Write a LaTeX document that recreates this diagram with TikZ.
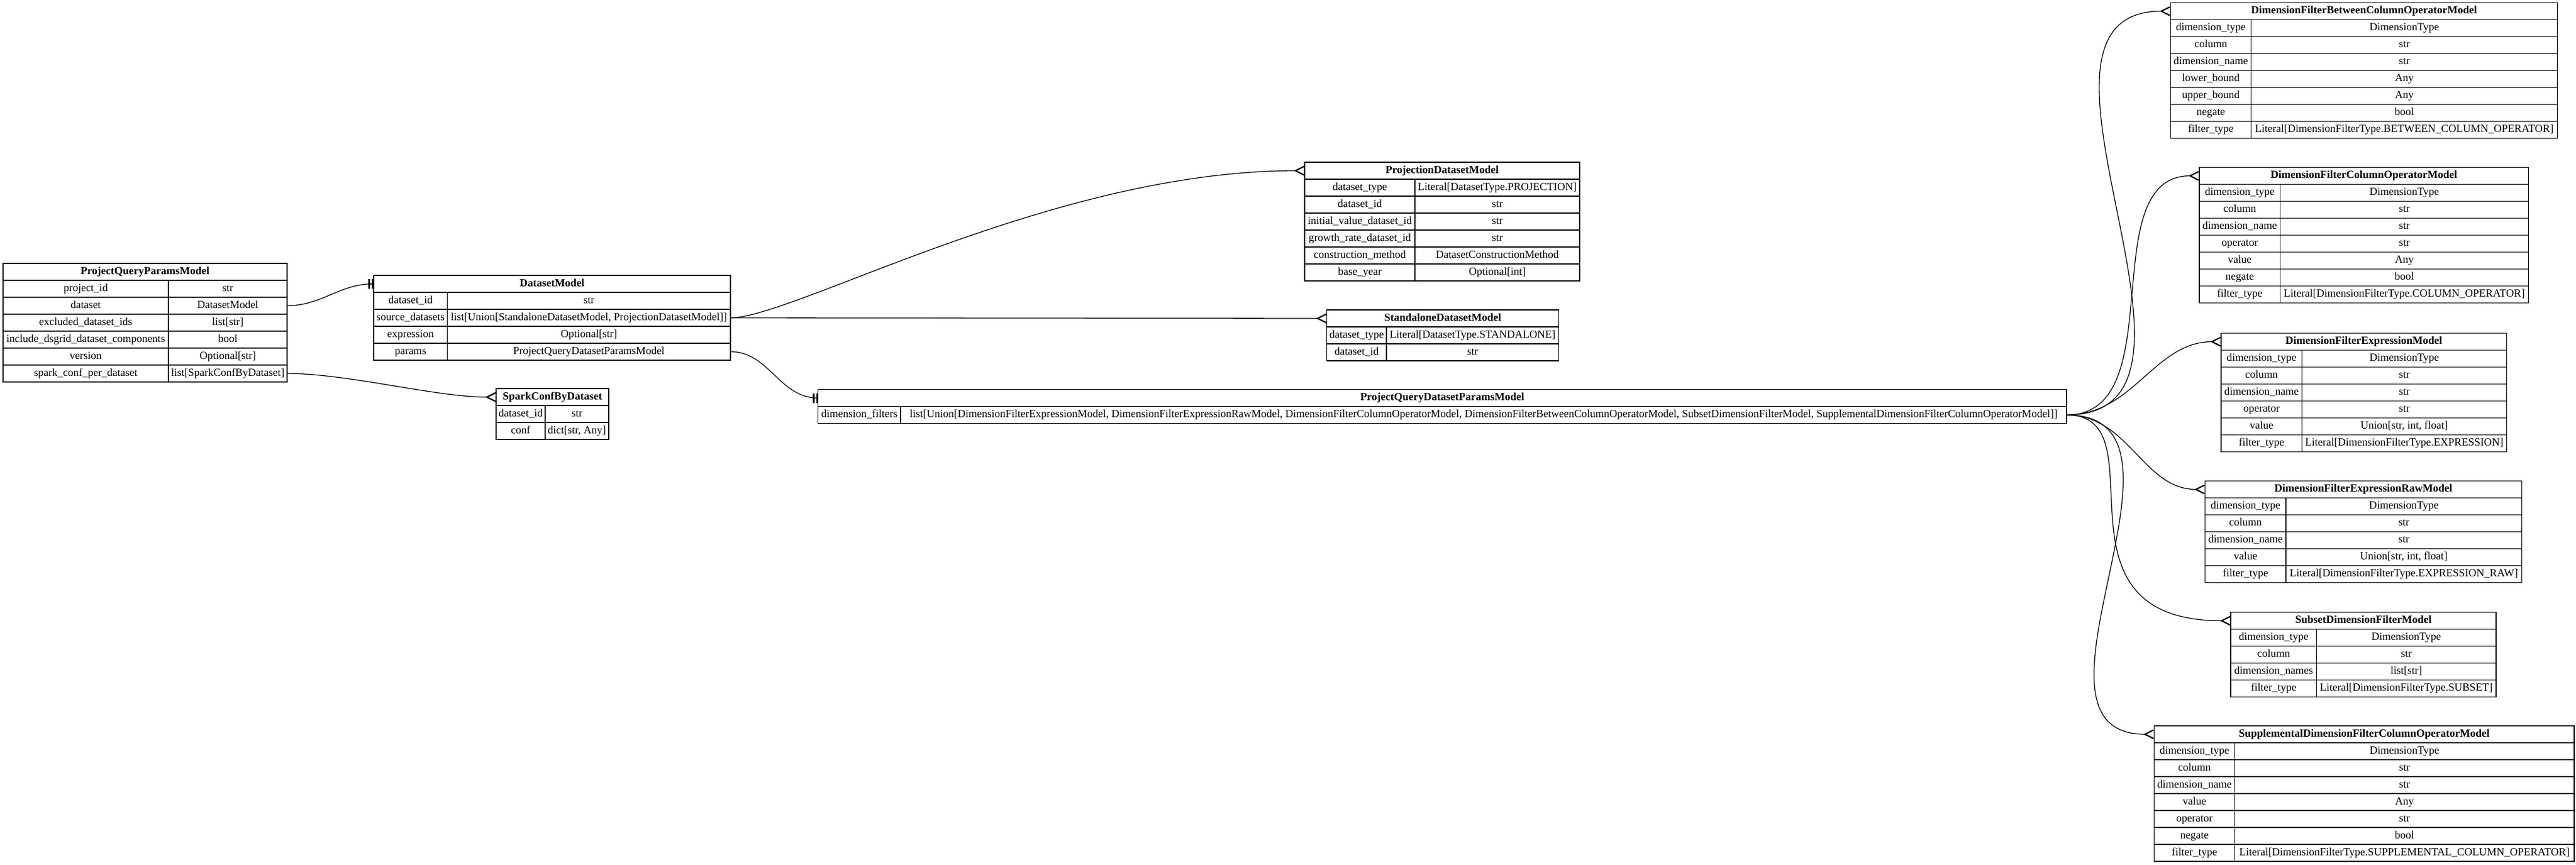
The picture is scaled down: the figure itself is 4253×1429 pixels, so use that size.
\documentclass[tikz,border=0pt]{standalone}
\usepackage{fontspec}
\setmainfont{Liberation Serif}
\usetikzlibrary{positioning, arrows.meta}
\tikzstyle{cell} =[draw, line width=1.2pt, inner sep=0pt, outer sep=0pt, minimum height=28pt, text height=12.5pt, text depth=4pt, font=\fontsize{18}{21}\selectfont]
\tikzstyle{modeltitle} =[cell, fill=white, anchor=north west, font=\fontsize{18}{21}\selectfont\bfseries]
\tikzstyle{link} =[line width=1.3pt, black]
\tikzstyle{many} =[link, -{Straight Barb[reversed, length=14pt, width=14pt, line width=2.2pt]}]
\tikzstyle{teetee} =[link, -{Bar[width=16pt, line width=3pt, sep=3pt]Bar[width=16pt, line width=3pt]}]

\newcommand{\ermodel}[6]{%
  \node (#1) [modeltitle, alias=#1-k0, minimum width=#3+#4] at (#2) {#5};
  \foreach \fkey/\fval [count=\row, remember=\row as \prev (initially 0)] in {#6} {
    \node (#1-k\row) [cell, minimum width=#3, below right=0pt and 0pt of #1-k\prev.south west] {\fkey};
    \node (#1-v\row) [cell, minimum width=#4, right=0pt of #1-k\row] {\fval};
  }
}

\begin{document}
\begin{tikzpicture}[x=1pt, y=-1pt]
\useasboundingbox (0,0) rectangle (4253,1429);

\ermodel{pqp}{5,435}{273}{196}{ProjectQueryParamsModel}{project\_id/str, dataset/DatasetModel, excluded\_dataset\_ids/list[str], include\_dsgrid\_dataset\_components/bool, version/Optional[str], spark\_conf\_per\_dataset/list[SparkConfByDataset]}

\ermodel{ds}{617,455}{121.5}{467.5}{DatasetModel}{dataset\_id/str, source\_datasets/{list[Union[StandaloneDatasetModel, ProjectionDatasetModel]]}, expression/Optional[str], params/ProjectQueryDatasetParamsModel}

\ermodel{spark}{819,642}{81}{105}{SparkConfByDataset}{dataset\_id/str, conf/{dict[str, Any]}}

\ermodel{proj}{2154,268}{182}{272}{ProjectionDatasetModel}{dataset\_type/Literal[DatasetType.PROJECTION], dataset\_id/str, initial\_value\_dataset\_id/str, growth\_rate\_dataset\_id/str, construction\_method/DatasetConstructionMethod, base\_year/Optional[int]}

\ermodel{stand}{2190.5,512}{98.5}{284.5}{StandaloneDatasetModel}{dataset\_type/Literal[DatasetType.STANDALONE], dataset\_id/str}

\ermodel{pqdp}{1350.5,643.5}{136.5}{1925}{ProjectQueryDatasetParamsModel}{dimension\_filters/{list[Union[DimensionFilterExpressionModel, DimensionFilterExpressionRawModel, DimensionFilterColumnOperatorModel, DimensionFilterBetweenColumnOperatorModel, SubsetDimensionFilterModel, SupplementalDimensionFilterColumnOperatorModel]]}}

\ermodel{dfb}{3583.5,4.5}{133}{506}{DimensionFilterBetweenColumnOperatorModel}{dimension\_type/DimensionType, column/str, dimension\_name/str, lower\_bound/Any, upper\_bound/Any, negate/bool, filter\_type/Literal[DimensionFilterType.BETWEEN\_COLUMN\_OPERATOR]}

\ermodel{dfco}{3631,276.5}{133.5}{410}{DimensionFilterColumnOperatorModel}{dimension\_type/DimensionType, column/str, dimension\_name/str, operator/str, value/Any, negate/bool, filter\_type/Literal[DimensionFilterType.COLUMN\_OPERATOR]}

\ermodel{dfe}{3667,550.5}{133.5}{338}{DimensionFilterExpressionModel}{dimension\_type/DimensionType, column/str, dimension\_name/str, operator/str, value/{Union[str, int, float]}, filter\_type/Literal[DimensionFilterType.EXPRESSION]}

\ermodel{dfer}{3640.5,794.5}{133.5}{389.5}{DimensionFilterExpressionRawModel}{dimension\_type/DimensionType, column/str, dimension\_name/str, value/{Union[str, int, float]}, filter\_type/Literal[DimensionFilterType.EXPRESSION\_RAW]}

\ermodel{sub}{3683,1011.5}{141.5}{296.5}{SubsetDimensionFilterModel}{dimension\_type/DimensionType, column/str, dimension\_names/list[str], filter\_type/Literal[DimensionFilterType.SUBSET]}

\ermodel{supp}{3556.5,1199}{133}{560.5}{SupplementalDimensionFilterColumnOperatorModel}{dimension\_type/DimensionType, column/str, dimension\_name/str, value/Any, operator/str, negate/bool, filter\_type/Literal[DimensionFilterType.SUPPLEMENTAL\_COLUMN\_OPERATOR]}

\draw[link] (pqp-v2.east) to[out=0, in=180, distance=58pt] (ds.west);
\draw[teetee] (ds.west) -- ([xshift=-9pt]ds.west);

\draw[many] (pqp-v6.east) to[out=0, in=180, distance=100pt] (spark.west);

\draw[many] (ds-v2.east) to[out=0, in=180, out distance=105pt, in distance=416pt] (proj.west);
\draw[many] (ds-v2.east) -- (stand.west);

\draw[link] (ds-v4.east) to[out=0, in=180, distance=64pt] (pqdp.west);
\draw[teetee] (pqdp.west) -- ([xshift=-9pt]pqdp.west);

\draw[many] (pqdp-v1.east) to[out=0, in=180, distance=298pt] (dfb.west);
\draw[many] (pqdp-v1.east) to[out=0, in=180, distance=176pt] (dfco.west);
\draw[many] (pqdp-v1.east) to[out=0, in=180, distance=110pt] (dfe.west);
\draw[many] (pqdp-v1.east) to[out=0, in=180, distance=102pt] (dfer.west);
\draw[many] (pqdp-v1.east) to[out=0, in=180, out distance=160pt, in distance=315pt] (sub.west);
\draw[many] (pqdp-v1.east) to[out=0, in=180, distance=248pt] (supp.west);

\end{tikzpicture}
\end{document}
